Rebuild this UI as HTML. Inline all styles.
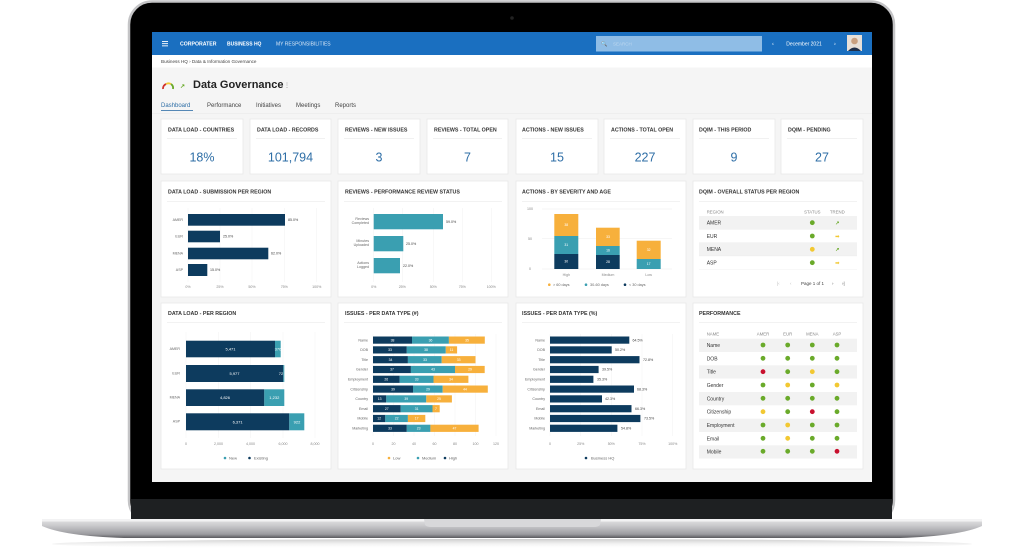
<!DOCTYPE html>
<html><head><meta charset="utf-8"><style>
html,body{margin:0;padding:0;background:#fff;width:1024px;height:549px;overflow:hidden}
svg{display:block;font-family:"Liberation Sans",sans-serif}
.ct{font-size:5.3px;font-weight:bold;fill:#333}
.kv{font-size:12.5px;fill:#2e6ea6;text-anchor:middle}
.tk{font-size:3.6px;fill:#888;text-anchor:middle}
.lb{font-size:3.6px;fill:#666;text-anchor:end}
.vl{font-size:3.6px;fill:#444}
.iv{font-size:3.4px;fill:#fff;text-anchor:middle}
.tb{font-size:5px;fill:#333}
.th{font-size:4.3px;fill:#888}
</style></head><body>
<svg width="1024" height="549" viewBox="0 0 1024 549">
<defs>
<linearGradient id="base" x1="0" y1="0" x2="0" y2="1">
<stop offset="0" stop-color="#e4e4e6"/><stop offset="0.35" stop-color="#c9c9cc"/><stop offset="0.8" stop-color="#9b9b9f"/><stop offset="1" stop-color="#5a5a5e"/></linearGradient>
<linearGradient id="shadow" x1="0" y1="0" x2="0" y2="1"><stop offset="0" stop-color="#999" stop-opacity=".5"/><stop offset="1" stop-color="#fff" stop-opacity="0"/></linearGradient>
</defs>
<!-- laptop lid -->
<rect x="129" y="1.5" width="765" height="522" rx="23" fill="#000" stroke="#c4c4c6" stroke-width="2.5"/>
<rect x="131" y="499" width="761" height="22" fill="#1e2022"/>
<circle cx="512" cy="18" r="1.8" fill="#222"/>
<!-- base -->
<ellipse cx="512" cy="544" rx="460" ry="5" fill="url(#shadow)"/>
<path d="M42 519 L982 519 L982 526 Q960 536 900 538 L124 538 Q64 536 42 526 Z" fill="url(#base)"/>
<rect x="42" y="519" width="940" height="2.5" fill="#f2f2f3"/>
<path d="M424 519 L601 519 L600 525 Q598 527 594 527 L431 527 Q427 527 425 525 Z" fill="#d8d8da"/>
<!-- screen -->
<rect x="152" y="32" width="720" height="450" fill="#f5f5f5"/>
<rect x="152" y="32" width="720" height="23" fill="#1a6fc0"/>
<g fill="#fff"><rect x="162" y="41" width="6" height="0.9"/><rect x="162" y="43.2" width="6" height="0.9"/><rect x="162" y="45.4" width="6" height="0.9"/></g>
<text x="180" y="45.5" font-size="5.2" font-weight="bold" fill="#fff">CORPORATER</text>
<text x="227" y="45.5" font-size="5" font-weight="bold" fill="#fff">BUSINESS HQ</text>
<text x="276" y="45.5" font-size="5" fill="#dbe8f5">MY RESPONSIBILITIES</text>
<rect x="596" y="36" width="166" height="15.5" fill="#8fbde6"/>
<text x="601" y="45.5" font-size="5" fill="#2b5f95">&#x1F50D;</text>
<text x="613" y="45.5" font-size="4.5" fill="#bdd7ef">SEARCH</text>
<text x="772" y="45.5" font-size="5.5" fill="#fff">‹</text>
<text x="804" y="45.5" font-size="5" fill="#fff" text-anchor="middle">December 2021</text>
<text x="834" y="45.5" font-size="5.5" fill="#fff">›</text>
<rect x="847" y="35" width="15" height="16" fill="#e8e0d8"/>
<circle cx="854.5" cy="41" r="3.3" fill="#c9a080"/>
<path d="M848 51 Q854.5 44 861 51 Z" fill="#1f2f4a"/>
<rect x="152" y="55" width="720" height="12.5" fill="#fff"/>
<text x="161" y="63" font-size="4.6" fill="#444">Business HQ  ›  Data &amp; Information Governance</text>
<!-- title -->
<path d="M163 89 A5 5 0 0 1 166 84" stroke="#d0312d" stroke-width="1.8" fill="none"/>
<path d="M166 84 A5 5 0 0 1 171 84" stroke="#f2c832" stroke-width="1.8" fill="none"/>
<path d="M171 84 A5 5 0 0 1 173 89" stroke="#6aaa2a" stroke-width="1.8" fill="none"/>
<text x="180" y="88" font-size="6" fill="#6aaa2a" font-weight="bold">↗</text>
<text x="193" y="88" font-size="11" font-weight="bold" fill="#222">Data Governance</text>
<text x="284" y="87" font-size="6" fill="#888">⋮</text>
<text x="161" y="107" font-size="6" fill="#2e6ea6">Dashboard</text>
<rect x="161" y="110" width="32" height="0.8" fill="#2e6ea6"/>
<text x="207" y="107" font-size="6" fill="#444">Performance</text>
<text x="256" y="107" font-size="6" fill="#444">Initiatives</text>
<text x="296" y="107" font-size="6" fill="#444">Meetings</text>
<text x="335" y="107" font-size="6" fill="#444">Reports</text>
<rect x="152" y="113" width="720" height="0.5" fill="#e6e6e6"/>
<!-- KPI cards -->
<g fill="#fff" stroke="#e3e3e3" stroke-width="0.6">
<rect x="161" y="119" width="82" height="55"/><rect x="250" y="119" width="81" height="55"/><rect x="338" y="119" width="82" height="55"/><rect x="427" y="119" width="81" height="55"/>
<rect x="516" y="119" width="82" height="55"/><rect x="604" y="119" width="82" height="55"/><rect x="693" y="119" width="82" height="55"/><rect x="781" y="119" width="82" height="55"/>
</g>
<g fill="#e3e3e3">
<rect x="167" y="138.5" width="70" height="0.5"/><rect x="256" y="138.5" width="69" height="0.5"/><rect x="344" y="138.5" width="70" height="0.5"/><rect x="433" y="138.5" width="69" height="0.5"/>
<rect x="522" y="138.5" width="70" height="0.5"/><rect x="610" y="138.5" width="70" height="0.5"/><rect x="699" y="138.5" width="70" height="0.5"/><rect x="787" y="138.5" width="70" height="0.5"/>
</g>
<g class="ct">
<text x="168" y="131.5">DATA LOAD - COUNTRIES</text><text x="257" y="131.5">DATA LOAD - RECORDS</text><text x="345" y="131.5">REVIEWS - NEW ISSUES</text><text x="434" y="131.5">REVIEWS - TOTAL OPEN</text>
<text x="522" y="131.5">ACTIONS - NEW ISSUES</text><text x="611" y="131.5">ACTIONS - TOTAL OPEN</text><text x="699" y="131.5">DQIM - THIS PERIOD</text><text x="788" y="131.5">DQIM - PENDING</text>
</g>
<text class="kv" x="202" y="161.5">18%</text><text class="kv" x="290.5" y="161.5">101,794</text><text class="kv" x="379" y="161.5">3</text><text class="kv" x="467.5" y="161.5">7</text>
<text class="kv" x="557" y="161.5">15</text><text class="kv" x="645" y="161.5">227</text><text class="kv" x="734" y="161.5">9</text><text class="kv" x="822" y="161.5">27</text>
<!-- big cards -->
<g fill="#fff" stroke="#e3e3e3" stroke-width="0.6">
<rect x="161" y="181" width="170" height="116"/><rect x="338" y="181" width="170" height="116"/><rect x="516" y="181" width="170" height="116"/><rect x="693" y="181" width="170" height="116"/>
<rect x="161" y="303" width="170" height="166"/><rect x="338" y="303" width="170" height="166"/><rect x="516" y="303" width="170" height="166"/><rect x="693" y="303" width="170" height="166"/>
</g>
<g fill="#e6e6e6">
<rect x="167" y="201.5" width="158" height="0.5"/><rect x="344" y="201.5" width="158" height="0.5"/><rect x="522" y="201.5" width="158" height="0.5"/><rect x="699" y="201.5" width="158" height="0.5"/>
<rect x="167" y="322.5" width="158" height="0.5"/><rect x="344" y="322.5" width="158" height="0.5"/><rect x="522" y="322.5" width="158" height="0.5"/><rect x="699" y="322.5" width="158" height="0.5"/>
</g>
<g class="ct">
<text x="168" y="193.5">DATA LOAD - SUBMISSION PER REGION</text><text x="345" y="193.5">REVIEWS - PERFORMANCE REVIEW STATUS</text><text x="522" y="193.5">ACTIONS - BY SEVERITY AND AGE</text><text x="699" y="193.5">DQIM - OVERALL STATUS PER REGION</text>
<text x="168" y="315">DATA LOAD - PER REGION</text><text x="345" y="315">ISSUES - PER DATA TYPE (#)</text><text x="522" y="315">ISSUES - PER DATA TYPE (%)</text><text x="699" y="315">PERFORMANCE</text>
</g>
<!-- chart 1 -->
<g stroke="#eee" stroke-width="0.4"><line x1="188" y1="208" x2="188" y2="282"/><line x1="220" y1="208" x2="220" y2="282"/><line x1="252" y1="208" x2="252" y2="282"/><line x1="284.3" y1="208" x2="284.3" y2="282"/><line x1="316.7" y1="208" x2="316.7" y2="282"/></g>
<g fill="#0d3b5e"><rect x="188" y="214" width="97" height="11.7"/><rect x="188" y="230.7" width="32" height="11.6"/><rect x="188" y="247.7" width="80.3" height="11.6"/><rect x="188" y="264" width="19.3" height="12"/></g>
<g class="lb"><text x="183" y="221">AMER</text><text x="183" y="237.5">EUR</text><text x="183" y="254.5">MENA</text><text x="183" y="271">ASP</text></g>
<g class="vl"><text x="288" y="221">85.0%</text><text x="223" y="237.5">25.0%</text><text x="271" y="254.5">62.0%</text><text x="210" y="271">15.0%</text></g>
<g class="tk"><text x="188" y="288">0%</text><text x="220" y="288">25%</text><text x="252" y="288">50%</text><text x="284.3" y="288">75%</text><text x="316.7" y="288">100%</text></g>
<!-- chart 2 -->
<g stroke="#eee" stroke-width="0.4"><line x1="373.7" y1="208" x2="373.7" y2="282"/><line x1="402.3" y1="208" x2="402.3" y2="282"/><line x1="433.3" y1="208" x2="433.3" y2="282"/><line x1="462.3" y1="208" x2="462.3" y2="282"/><line x1="491.3" y1="208" x2="491.3" y2="282"/></g>
<g fill="#3a9fb1"><rect x="373.7" y="214" width="69.3" height="15.3"/><rect x="373.7" y="236" width="29.6" height="15.3"/><rect x="373.7" y="258" width="26.3" height="15.3"/></g>
<g class="lb"><text x="369" y="220">Reviews</text><text x="369" y="224">Completed</text><text x="369" y="242">Minutes</text><text x="369" y="246">Uploaded</text><text x="369" y="264">Actions</text><text x="369" y="268">Logged</text></g>
<g class="vl"><text x="446" y="223">59.0%</text><text x="406" y="245">25.0%</text><text x="403" y="267">22.0%</text></g>
<g class="tk"><text x="373.7" y="288">0%</text><text x="402.3" y="288">25%</text><text x="433.3" y="288">50%</text><text x="462.3" y="288">75%</text><text x="491.3" y="288">100%</text></g>
<!-- chart 3 -->
<g stroke="#e8e8e8" stroke-width="0.4"><line x1="542" y1="209" x2="672" y2="209"/><line x1="542" y1="238.5" x2="672" y2="238.5"/><line x1="542" y1="269" x2="672" y2="269"/></g>
<g class="tk"><text x="530" y="210">100</text><text x="530" y="240">50</text><text x="530" y="270">0</text></g>
<rect x="554.3" y="214" width="24" height="22" fill="#f7b03c"/><rect x="554.3" y="236" width="24" height="18" fill="#3a9fb1"/><rect x="554.3" y="254" width="24" height="15" fill="#0d3b5e"/>
<rect x="596" y="227.7" width="23.7" height="18.3" fill="#f7b03c"/><rect x="596" y="246" width="23.7" height="9" fill="#3a9fb1"/><rect x="596" y="255" width="23.7" height="14" fill="#0d3b5e"/>
<rect x="636.7" y="240.7" width="24" height="18.3" fill="#f7b03c"/><rect x="636.7" y="259" width="24" height="10" fill="#3a9fb1"/>
<g class="iv"><text x="566.3" y="226">38</text><text x="566.3" y="246">31</text><text x="566.3" y="262.5">30</text><text x="608" y="238">33</text><text x="608" y="251.5">16</text><text x="608" y="263">28</text><text x="648.7" y="251">32</text><text x="648.7" y="265">17</text></g>
<g class="tk"><text x="566.3" y="276">High</text><text x="608" y="276">Medium</text><text x="648.7" y="276">Low</text></g>
<circle cx="549.3" cy="284.7" r="1.3" fill="#f7b03c"/><circle cx="586" cy="284.7" r="1.3" fill="#3a9fb1"/><circle cx="625" cy="284.7" r="1.3" fill="#0d3b5e"/>
<g font-size="3.8" fill="#666"><text x="553" y="286">&gt; 60 days</text><text x="590" y="286">30-60 days</text><text x="629" y="286">&lt; 30 days</text></g>
<!-- chart 4 table -->
<rect x="699" y="216" width="158" height="13.3" fill="#f2f2f2"/><rect x="699" y="242.7" width="158" height="13.3" fill="#f2f2f2"/>
<g stroke="#e6e6e6" stroke-width="0.3"><line x1="699" y1="229.3" x2="857" y2="229.3"/><line x1="699" y1="242.7" x2="857" y2="242.7"/><line x1="699" y1="256" x2="857" y2="256"/><line x1="699" y1="269.3" x2="857" y2="269.3"/></g>
<g class="th"><text x="706.7" y="213.5">REGION</text><text x="812.3" y="213.5" text-anchor="middle">STATUS</text><text x="837.3" y="213.5" text-anchor="middle">TREND</text></g>
<g class="tb"><text x="706.7" y="224.5">AMER</text><text x="706.7" y="238">EUR</text><text x="706.7" y="251">MENA</text><text x="706.7" y="264.5">ASP</text></g>
<circle cx="812.3" cy="222.7" r="2.4" fill="#6aaa2a"/><circle cx="812.3" cy="236" r="2.4" fill="#6aaa2a"/><circle cx="812.3" cy="249.3" r="2.4" fill="#f2c832"/><circle cx="812.3" cy="262.7" r="2.4" fill="#6aaa2a"/>
<g font-size="5" font-weight="bold" text-anchor="middle"><text x="837.3" y="224.5" fill="#6aaa2a">↗</text><text x="837.3" y="238" fill="#f2c832">➡</text><text x="837.3" y="251" fill="#6aaa2a">↗</text><text x="837.3" y="264.5" fill="#f2c832">➡</text></g>
<g font-size="4.5" fill="#bbb"><text x="777" y="285">|‹</text><text x="790" y="285">‹</text><text x="832" y="285" fill="#555">›</text><text x="842" y="285" fill="#555">›|</text></g>
<text x="801" y="285" font-size="4.5" fill="#444">Page 1 of 1</text>
<!-- chart 5 -->
<g stroke="#eee" stroke-width="0.4"><line x1="186" y1="332" x2="186" y2="438"/><line x1="218.5" y1="332" x2="218.5" y2="438"/><line x1="250.5" y1="332" x2="250.5" y2="438"/><line x1="283" y1="332" x2="283" y2="438"/><line x1="315" y1="332" x2="315" y2="438"/></g>
<rect x="186" y="340.7" width="89" height="16.6" fill="#0d3b5e"/><rect x="275" y="340.7" width="5.7" height="16.6" fill="#3a9fb1"/>
<rect x="186" y="365" width="97.3" height="17" fill="#0d3b5e"/><rect x="283.3" y="365" width="1" height="17" fill="#3a9fb1"/>
<rect x="186" y="389.3" width="78.3" height="16.7" fill="#0d3b5e"/><rect x="264.3" y="389.3" width="20" height="16.7" fill="#3a9fb1"/>
<rect x="186" y="413.3" width="103.3" height="17" fill="#0d3b5e"/><rect x="289.3" y="413.3" width="15" height="17" fill="#3a9fb1"/>
<g class="lb"><text x="180" y="350">AMER</text><text x="180" y="374.5">EUR</text><text x="180" y="398.5">MENA</text><text x="180" y="422.5">ASP</text></g>
<g font-size="4" fill="#fff" text-anchor="middle"><text x="230.5" y="350.5">5,471</text><text x="278" y="350.5">376</text><text x="234.5" y="375">5,977</text><text x="281" y="375">72</text><text x="225" y="399">4,826</text><text x="274.3" y="399">1,232</text><text x="237.6" y="423.5">6,371</text><text x="297" y="423.5">922</text></g>
<g class="tk"><text x="186" y="445">0</text><text x="218.5" y="445">2,000</text><text x="250.5" y="445">4,000</text><text x="283" y="445">6,000</text><text x="315" y="445">8,000</text></g>
<circle cx="225" cy="458" r="1.3" fill="#3a9fb1"/><circle cx="249.5" cy="458" r="1.3" fill="#0d3b5e"/>
<g font-size="4" fill="#666"><text x="229" y="459.5">New</text><text x="254" y="459.5">Existing</text></g>
<!-- chart 6 -->
<g stroke="#eee" stroke-width="0.4"><line x1="373" y1="334" x2="373" y2="436"/><line x1="393.5" y1="334" x2="393.5" y2="436"/><line x1="414" y1="334" x2="414" y2="436"/><line x1="434.5" y1="334" x2="434.5" y2="436"/><line x1="455" y1="334" x2="455" y2="436"/><line x1="475.5" y1="334" x2="475.5" y2="436"/><line x1="496" y1="334" x2="496" y2="436"/></g>
<g fill="#0d3b5e">
<rect x="373" y="336.5" width="39" height="7.2"/><rect x="373" y="346.3" width="33.8" height="7.2"/><rect x="373" y="356.1" width="34.9" height="7.2"/><rect x="373" y="365.9" width="37.9" height="7.2"/><rect x="373" y="375.7" width="26.7" height="7.2"/><rect x="373" y="385.5" width="40" height="7.2"/><rect x="373" y="395.3" width="13.3" height="7.2"/><rect x="373" y="405.1" width="27.7" height="7.2"/><rect x="373" y="414.9" width="12.3" height="7.2"/><rect x="373" y="424.7" width="33.8" height="7.2"/></g>
<g fill="#3a9fb1">
<rect x="412" y="336.5" width="36.9" height="7.2"/><rect x="406.8" y="346.3" width="39" height="7.2"/><rect x="407.9" y="356.1" width="33.8" height="7.2"/><rect x="410.9" y="365.9" width="44.1" height="7.2"/><rect x="399.7" y="375.7" width="33.8" height="7.2"/><rect x="413" y="385.5" width="29.7" height="7.2"/><rect x="386.3" y="395.3" width="40" height="7.2"/><rect x="400.7" y="405.1" width="31.8" height="7.2"/><rect x="385.3" y="414.9" width="22.6" height="7.2"/><rect x="406.8" y="424.7" width="23.6" height="7.2"/></g>
<g fill="#f7b03c">
<rect x="448.9" y="336.5" width="35.9" height="7.2"/><rect x="445.8" y="346.3" width="11.3" height="7.2"/><rect x="441.7" y="356.1" width="33.8" height="7.2"/><rect x="455" y="365.9" width="29.7" height="7.2"/><rect x="433.5" y="375.7" width="34.9" height="7.2"/><rect x="442.7" y="385.5" width="45.1" height="7.2"/><rect x="426.3" y="395.3" width="25.6" height="7.2"/><rect x="432.5" y="405.1" width="7.2" height="7.2"/><rect x="407.9" y="414.9" width="17.4" height="7.2"/><rect x="430.4" y="424.7" width="48.2" height="7.2"/></g>
<g class="iv">
<text x="392.5" y="341.3">38</text><text x="430.5" y="341.3">36</text><text x="467" y="341.3">35</text>
<text x="390" y="351.1">33</text><text x="426" y="351.1">38</text><text x="451.5" y="351.1">11</text>
<text x="390.5" y="360.9">34</text><text x="425" y="360.9">33</text><text x="458.6" y="360.9">33</text>
<text x="392" y="370.7">37</text><text x="433" y="370.7">43</text><text x="470" y="370.7">29</text>
<text x="386.3" y="380.5">26</text><text x="416.6" y="380.5">33</text><text x="451" y="380.5">34</text>
<text x="393" y="390.3">39</text><text x="428" y="390.3">29</text><text x="465" y="390.3">44</text>
<text x="379.6" y="400.1">13</text><text x="406.3" y="400.1">39</text><text x="439" y="400.1">25</text>
<text x="386.8" y="409.9">27</text><text x="416.6" y="409.9">31</text><text x="436" y="409.9">7</text>
<text x="379.1" y="419.7">12</text><text x="396.6" y="419.7">22</text><text x="416.6" y="419.7">17</text>
<text x="390" y="429.5">33</text><text x="418.6" y="429.5">23</text><text x="454.5" y="429.5">47</text></g>
<g class="lb">
<text x="368" y="341.3">Name</text><text x="368" y="351.1">DOB</text><text x="368" y="360.9">Title</text><text x="368" y="370.7">Gender</text><text x="368" y="380.5">Employment</text><text x="368" y="390.3">Citizenship</text><text x="368" y="400.1">Country</text><text x="368" y="409.9">Email</text><text x="368" y="419.7">Mobile</text><text x="368" y="429.5">Marketing</text></g>
<g class="tk"><text x="373" y="445">0</text><text x="393.5" y="445">20</text><text x="414" y="445">40</text><text x="434.5" y="445">60</text><text x="455" y="445">80</text><text x="475.5" y="445">100</text><text x="496" y="445">120</text></g>
<circle cx="389" cy="458" r="1.3" fill="#f7b03c"/><circle cx="418" cy="458" r="1.3" fill="#3a9fb1"/><circle cx="445" cy="458" r="1.3" fill="#0d3b5e"/>
<g font-size="4" fill="#666"><text x="393" y="459.5">Low</text><text x="422" y="459.5">Medium</text><text x="449" y="459.5">High</text></g>
<!-- chart 7 -->
<g stroke="#eee" stroke-width="0.4"><line x1="550" y1="334" x2="550" y2="436"/><line x1="580.7" y1="334" x2="580.7" y2="436"/><line x1="611.3" y1="334" x2="611.3" y2="436"/><line x1="642" y1="334" x2="642" y2="436"/><line x1="672.7" y1="334" x2="672.7" y2="436"/></g>
<g fill="#0d3b5e">
<rect x="550" y="336.5" width="79.3" height="7.2"/><rect x="550" y="346.3" width="61.7" height="7.2"/><rect x="550" y="356.1" width="89.5" height="7.2"/><rect x="550" y="365.9" width="48.6" height="7.2"/><rect x="550" y="375.7" width="43.4" height="7.2"/><rect x="550" y="385.5" width="84" height="7.2"/><rect x="550" y="395.3" width="52" height="7.2"/><rect x="550" y="405.1" width="81.5" height="7.2"/><rect x="550" y="414.9" width="90.4" height="7.2"/><rect x="550" y="424.7" width="67.4" height="7.2"/></g>
<g class="vl">
<text x="632.5" y="341.3">64.5%</text><text x="615" y="351.1">50.2%</text><text x="643" y="360.9">72.8%</text><text x="602" y="370.7">39.5%</text><text x="597" y="380.5">35.3%</text><text x="637" y="390.3">68.3%</text><text x="605" y="400.1">42.3%</text><text x="635" y="409.9">66.3%</text><text x="644" y="419.7">73.5%</text><text x="621" y="429.5">54.8%</text></g>
<g class="lb">
<text x="545" y="341.3">Name</text><text x="545" y="351.1">DOB</text><text x="545" y="360.9">Title</text><text x="545" y="370.7">Gender</text><text x="545" y="380.5">Employment</text><text x="545" y="390.3">Citizenship</text><text x="545" y="400.1">Country</text><text x="545" y="409.9">Email</text><text x="545" y="419.7">Mobile</text><text x="545" y="429.5">Marketing</text></g>
<g class="tk"><text x="550" y="445">0</text><text x="580.7" y="445">25%</text><text x="611.3" y="445">50%</text><text x="642" y="445">75%</text><text x="672.7" y="445">100%</text></g>
<circle cx="586" cy="458" r="1.3" fill="#0d3b5e"/>
<text x="591" y="459.5" font-size="4" fill="#666">Business HQ</text>
<!-- chart 8 -->
<g fill="#f2f2f2"><rect x="699" y="338.7" width="158" height="13.3"/><rect x="699" y="365.3" width="158" height="13.3"/><rect x="699" y="392" width="158" height="13.3"/><rect x="699" y="418.7" width="158" height="13.3"/><rect x="699" y="445.3" width="158" height="13.3"/></g>
<g class="th"><text x="706.7" y="335.5">NAME</text><text x="763" y="335.5" text-anchor="middle">AMER</text><text x="787.7" y="335.5" text-anchor="middle">EUR</text><text x="812.3" y="335.5" text-anchor="middle">MENA</text><text x="837" y="335.5" text-anchor="middle">ASP</text></g>
<g class="tb"><text x="706.7" y="347">Name</text><text x="706.7" y="360.3">DOB</text><text x="706.7" y="373.7">Title</text><text x="706.7" y="387">Gender</text><text x="706.7" y="400.3">Country</text><text x="706.7" y="413.7">Citizenship</text><text x="706.7" y="427">Employment</text><text x="706.7" y="440.3">Email</text><text x="706.7" y="453.3">Mobile</text></g>
<g fill="#6aaa2a">
<circle cx="763" cy="345" r="2.4"/><circle cx="787.7" cy="345" r="2.4"/><circle cx="812.3" cy="345" r="2.4"/><circle cx="837" cy="345" r="2.4"/>
<circle cx="763" cy="358.3" r="2.4"/><circle cx="787.7" cy="358.3" r="2.4"/><circle cx="812.3" cy="358.3" r="2.4"/><circle cx="837" cy="358.3" r="2.4"/>
<circle cx="787.7" cy="371.7" r="2.4"/><circle cx="837" cy="371.7" r="2.4"/>
<circle cx="763" cy="385" r="2.4"/><circle cx="812.3" cy="385" r="2.4"/>
<circle cx="763" cy="398.3" r="2.4"/><circle cx="787.7" cy="398.3" r="2.4"/><circle cx="812.3" cy="398.3" r="2.4"/><circle cx="837" cy="398.3" r="2.4"/>
<circle cx="787.7" cy="411.7" r="2.4"/><circle cx="837" cy="411.7" r="2.4"/>
<circle cx="763" cy="425" r="2.4"/><circle cx="812.3" cy="425" r="2.4"/><circle cx="837" cy="425" r="2.4"/>
<circle cx="763" cy="438.3" r="2.4"/><circle cx="812.3" cy="438.3" r="2.4"/><circle cx="837" cy="438.3" r="2.4"/>
<circle cx="763" cy="451.3" r="2.4"/><circle cx="787.7" cy="451.3" r="2.4"/><circle cx="812.3" cy="451.3" r="2.4"/></g>
<g fill="#f2c832"><circle cx="812.3" cy="371.7" r="2.4"/><circle cx="787.7" cy="385" r="2.4"/><circle cx="837" cy="385" r="2.4"/><circle cx="763" cy="411.7" r="2.4"/><circle cx="787.7" cy="425" r="2.4"/><circle cx="787.7" cy="438.3" r="2.4"/></g>
<g fill="#c8102e"><circle cx="763" cy="371.7" r="2.4"/><circle cx="812.3" cy="411.7" r="2.4"/><circle cx="837" cy="451.3" r="2.4"/></g>
</svg>
</body></html>
